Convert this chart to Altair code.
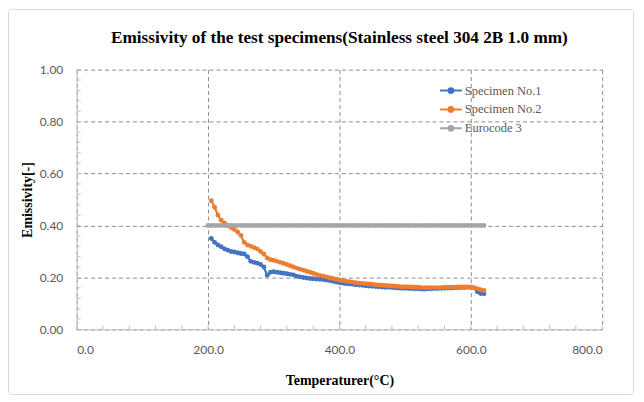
import altair as alt
import pandas as pd

# ---- data ----
temps = [205, 210, 215, 220, 225, 230, 235, 240, 245, 250,
         255, 260, 265, 270, 275, 280, 285, 290, 295, 300,
         305, 310, 315, 320, 325, 330, 335, 340, 345, 350,
         355, 360, 365, 370, 375, 380, 385, 390, 395, 400,
         405, 410, 415, 420, 425, 430, 435, 440, 445, 450,
         455, 460, 465, 470, 475, 480, 485, 490, 495, 500,
         505, 510, 515, 520, 525, 530, 535, 540, 545, 550,
         555, 560, 565, 570, 575, 580, 585, 590, 595, 600,
         605, 610, 615, 620]

specimen1 = [0.350, 0.335, 0.325, 0.318, 0.310, 0.305, 0.300, 0.298, 0.295, 0.292,
             0.290, 0.280, 0.262, 0.258, 0.255, 0.250, 0.240, 0.208, 0.220, 0.222,
             0.220, 0.218, 0.216, 0.214, 0.212, 0.210, 0.205, 0.202, 0.200, 0.198,
             0.196, 0.195, 0.194, 0.193, 0.192, 0.190, 0.188, 0.185, 0.182, 0.180,
             0.178, 0.176, 0.175, 0.174, 0.172, 0.171, 0.170, 0.168, 0.167, 0.166,
             0.165, 0.164, 0.163, 0.162, 0.162, 0.161, 0.160, 0.159, 0.158, 0.158,
             0.157, 0.157, 0.156, 0.156, 0.155, 0.155, 0.156, 0.156, 0.157, 0.157,
             0.158, 0.158, 0.159, 0.159, 0.160, 0.160, 0.161, 0.161, 0.162, 0.162,
             0.160, 0.145, 0.138, 0.137]

specimen2 = [0.495, 0.470, 0.440, 0.420, 0.410, 0.400, 0.392, 0.385, 0.375, 0.362,
             0.335, 0.325, 0.320, 0.315, 0.310, 0.300, 0.290, 0.275, 0.268, 0.266,
             0.262, 0.258, 0.254, 0.250, 0.245, 0.240, 0.236, 0.232, 0.228, 0.224,
             0.220, 0.216, 0.212, 0.208, 0.205, 0.202, 0.199, 0.196, 0.193, 0.190,
             0.188, 0.186, 0.184, 0.182, 0.180, 0.178, 0.177, 0.176, 0.175, 0.174,
             0.172, 0.171, 0.170, 0.169, 0.168, 0.167, 0.166, 0.165, 0.164, 0.164,
             0.163, 0.163, 0.162, 0.162, 0.161, 0.161, 0.161, 0.161, 0.161, 0.161,
             0.161, 0.162, 0.162, 0.162, 0.162, 0.163, 0.163, 0.163, 0.163, 0.163,
             0.160, 0.157, 0.153, 0.150]

euro_temps = [200, 205, 210, 215, 220, 225, 230, 235, 240, 245,
              250, 255, 260, 265, 270, 275, 280, 285, 290, 295,
              300, 305, 310, 315, 320, 325, 330, 335, 340, 345,
              350, 355, 360, 365, 370, 375, 380, 385, 390, 395,
              400, 405, 410, 415, 420, 425, 430, 435, 440, 445,
              450, 455, 460, 465, 470, 475, 480, 485, 490, 495,
              500, 505, 510, 515, 520, 525, 530, 535, 540, 545,
              550, 555, 560, 565, 570, 575, 580, 585, 590, 595,
              600, 605, 610, 615, 620]
eurocode = [0.40, 0.40, 0.40, 0.40, 0.40, 0.40, 0.40, 0.40, 0.40, 0.40,
            0.40, 0.40, 0.40, 0.40, 0.40, 0.40, 0.40, 0.40, 0.40, 0.40,
            0.40, 0.40, 0.40, 0.40, 0.40, 0.40, 0.40, 0.40, 0.40, 0.40,
            0.40, 0.40, 0.40, 0.40, 0.40, 0.40, 0.40, 0.40, 0.40, 0.40,
            0.40, 0.40, 0.40, 0.40, 0.40, 0.40, 0.40, 0.40, 0.40, 0.40,
            0.40, 0.40, 0.40, 0.40, 0.40, 0.40, 0.40, 0.40, 0.40, 0.40,
            0.40, 0.40, 0.40, 0.40, 0.40, 0.40, 0.40, 0.40, 0.40, 0.40,
            0.40, 0.40, 0.40, 0.40, 0.40, 0.40, 0.40, 0.40, 0.40, 0.40,
            0.40, 0.40, 0.40, 0.40, 0.40]

series_names = ["Specimen No.1", "Specimen No.2", "Eurocode 3"]
series_colors = ["#4472C4", "#ED7D31", "#A5A5A5"]

x_major = [0, 200, 400, 600, 800]
y_major = [0.0, 0.2, 0.4, 0.6, 0.8, 1.0]
x_minor = [0, 40, 80, 120, 160, 200, 240, 280, 320, 360, 400,
           440, 480, 520, 560, 600, 640, 680, 720, 760, 800]
y_minor = [0.0, 0.04, 0.08, 0.12, 0.16, 0.2, 0.24, 0.28, 0.32, 0.36, 0.4,
           0.44, 0.48, 0.52, 0.56, 0.6, 0.64, 0.68, 0.72, 0.76, 0.8,
           0.84, 0.88, 0.92, 0.96, 1.0]

chart_title = "Emissivity of the test specimens(Stainless steel 304 2B 1.0 mm)"

# ---- tables ----
df = pd.concat([
    pd.DataFrame({"T": temps, "E": specimen1, "S": series_names[0], "o": 0}),
    pd.DataFrame({"T": temps, "E": specimen2, "S": series_names[1], "o": 1}),
    pd.DataFrame({"T": euro_temps, "E": eurocode, "S": series_names[2], "o": 2}),
], ignore_index=True)

xs = alt.Scale(domain=[0, 800], nice=False)
ys = alt.Scale(domain=[0, 1], nice=False)

W, H = 528, 261
serif = "Liberation Serif"
sans = "Lato"

frame = alt.Chart(pd.DataFrame({"a": [0]})).mark_rect(
    fillOpacity=0, stroke="#d9d9d9", strokeWidth=1, cornerRadius=3
).encode(x=alt.value(-68.5), x2=alt.value(559.5), y=alt.value(-60.5), y2=alt.value(326.5))

title_mark = alt.Chart(pd.DataFrame({"a": [0]})).mark_text(
    text=chart_title, font=serif, fontSize=17.3, fontWeight="bold", color="black",
    align="center", baseline="alphabetic"
).encode(x=alt.value(W / 2), y=alt.value(-27))

lines = alt.Chart(df).mark_line(
    strokeWidth=2.25,
    point=alt.OverlayMarkDef(filled=True, size=24),
).encode(
    x=alt.X("T:Q", scale=xs,
            axis=alt.Axis(values=x_major, format=".1f", title="Temperaturer(°C)",
                          grid=True, ticks=False, labelPadding=15, titlePadding=18)),
    y=alt.Y("E:Q", scale=ys,
            axis=alt.Axis(values=y_major, format=".2f", title="Emissivity[-]",
                          grid=True, ticks=False, labelPadding=14, titlePadding=5)),
    color=alt.Color("S:N", scale=alt.Scale(domain=series_names, range=series_colors),
                    legend=alt.Legend(title=None, orient="none", legendX=364, legendY=9,
                                      symbolType="M-1,0H1M-0.22,0A0.22,0.22 0 1,1 0.22,0A0.22,0.22 0 1,1 -0.22,0",
                                      symbolSize=484, symbolStrokeWidth=2,
                                      labelFont=serif, labelFontSize=12.5, labelColor="#595959",
                                      rowPadding=-3, labelOffset=2)),
    detail="S:N",
    order="o:Q",
)

xminor = alt.Chart(pd.DataFrame({"t": x_minor})).mark_rule(color="#bfbfbf").encode(
    x=alt.X("t:Q", scale=xs), y=alt.value(H), y2=alt.value(H - 4))
yminor = alt.Chart(pd.DataFrame({"t": y_minor})).mark_rule(color="#bfbfbf").encode(
    y=alt.Y("t:Q", scale=ys), x=alt.value(0), x2=alt.value(4))

chart = alt.layer(frame, title_mark, xminor, yminor, lines).properties(
    width=W, height=H,
    background="white",
    autosize=alt.AutoSizeParams(type="none"),
    padding={"left": 69, "top": 61, "right": 34, "bottom": 66},
).configure_view(stroke=None).configure_axis(
    gridColor="#8c8c8c", gridDash=[4, 3], gridWidth=1,
    domainColor="#bfbfbf", domainWidth=1,
    labelFont=sans, labelFontSize=12, labelColor="#595959",
    titleFont=serif, titleFontSize=14, titleFontWeight="bold", titleColor="black",
)

chart.save("out.html", embed_options={"renderer": "svg", "actions": False})
